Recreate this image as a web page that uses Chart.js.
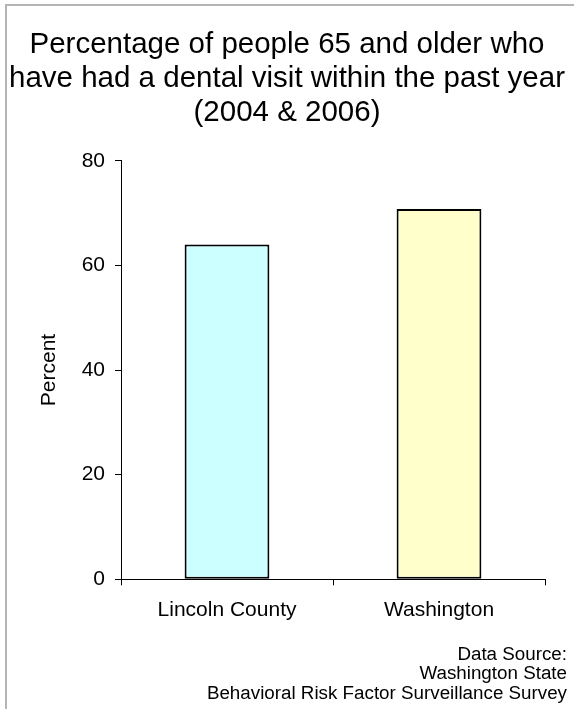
<!DOCTYPE html>
<html>
<head>
<meta charset="utf-8">
<script src="https://cdn.jsdelivr.net/npm/chart.js@4"></script>
<style>
  html, body { margin: 0; padding: 0; background: #fff; }
  #wrap { position: relative; width: 574px; height: 709px; }
  #frame {
    position: absolute; left: 5px; top: 4px; right: -2px; bottom: -2px;
    border-top: 2px solid #b4b4b4; border-left: 2px solid #b4b4b4;
    pointer-events: none;
  }
</style>
</head>
<body>
<div id="wrap">
  <canvas id="dentalChart" width="574" height="709"></canvas>
  <div id="frame"></div>
</div>
<script>
// bar data
var areas = ['Lincoln County', 'Washington'];
var percentVisited = [64, 70.8];
var barColors = ['#ccffff', '#ffffcc'];
var yTicks = [0, 20, 40, 60, 80];

var titleLines = [
  'Percentage of people 65 and older who',
  'have had a dental visit within the past year',
  '(2004 & 2006)'
];
var sourceLines = [
  'Data Source:',
  'Washington State',
  'Behavioral Risk Factor Surveillance Survey'
];

var fontFamily = '"Liberation Sans", Arial, sans-serif';

function start()
{
  const canvas = document.getElementById('dentalChart');

  new Chart(canvas, {
    type: 'bar',
    data: {
      labels: areas,
      datasets: [{
        label: 'Percent',
        data: percentVisited,
        backgroundColor: barColors,
        borderColor: '#000',
        borderWidth: 2,
        borderSkipped: false,
        categoryPercentage: 0.4,
        barPercentage: 1
      }]
    },
    options: {
      responsive: false,
      animation: false,
      layout: {
        padding: { left: 7, right: 7, top: 28, bottom: 6 }
      },
      plugins: {
        legend: { display: false },
        tooltip: { enabled: false },
        title: {
          display: true,
          text: titleLines,
          color: '#000',
          font: { family: fontFamily, size: 29.5, weight: 'normal', lineHeight: 1.15 },
          padding: { top: 0, bottom: 31 }
        },
        subtitle: {
          display: true,
          position: 'bottom',
          align: 'end',
          text: sourceLines,
          color: '#000',
          font: { family: fontFamily, size: 18.8, weight: 'normal', lineHeight: 1.02 },
          padding: { top: 11, bottom: 0 }
        }
      },
      scales: {
        x: {
          grid: {
            display: true,
            drawOnChartArea: false,
            drawTicks: true,
            tickLength: 6,
            color: '#000',
            lineWidth: 1
          },
          border: { display: true, color: '#000', width: 1 },
          ticks: {
            color: '#000',
            padding: 12,
            font: { family: fontFamily, size: 21 }
          }
        },
        y: {
          min: 0,
          max: 80,
          afterBuildTicks: function(scale) {
            scale.ticks = yTicks.map(function(v) { return { value: v }; });
          },
          afterFit: function(scale) { scale.width = 114; },
          grid: {
            display: true,
            drawOnChartArea: false,
            drawTicks: true,
            tickLength: 6,
            color: '#000',
            lineWidth: 1
          },
          border: { display: true, color: '#000', width: 1 },
          ticks: {
            color: '#000',
            padding: 10,
            font: { family: fontFamily, size: 21 }
          },
          title: {
            display: true,
            text: 'Percent',
            color: '#000',
            font: { family: fontFamily, size: 21 },
            padding: { top: 30, bottom: 0 }
          }
        },
        // empty right margin so the plot ends short of the source note
        rightGap: {
          type: 'linear',
          position: 'right',
          display: true,
          afterFit: function(scale) { scale.width = 22; },
          grid: { display: false },
          border: { display: false },
          ticks: { display: false }
        }
      }
    }
  });
}

window.addEventListener('load', start, false);
</script>
</body>
</html>
